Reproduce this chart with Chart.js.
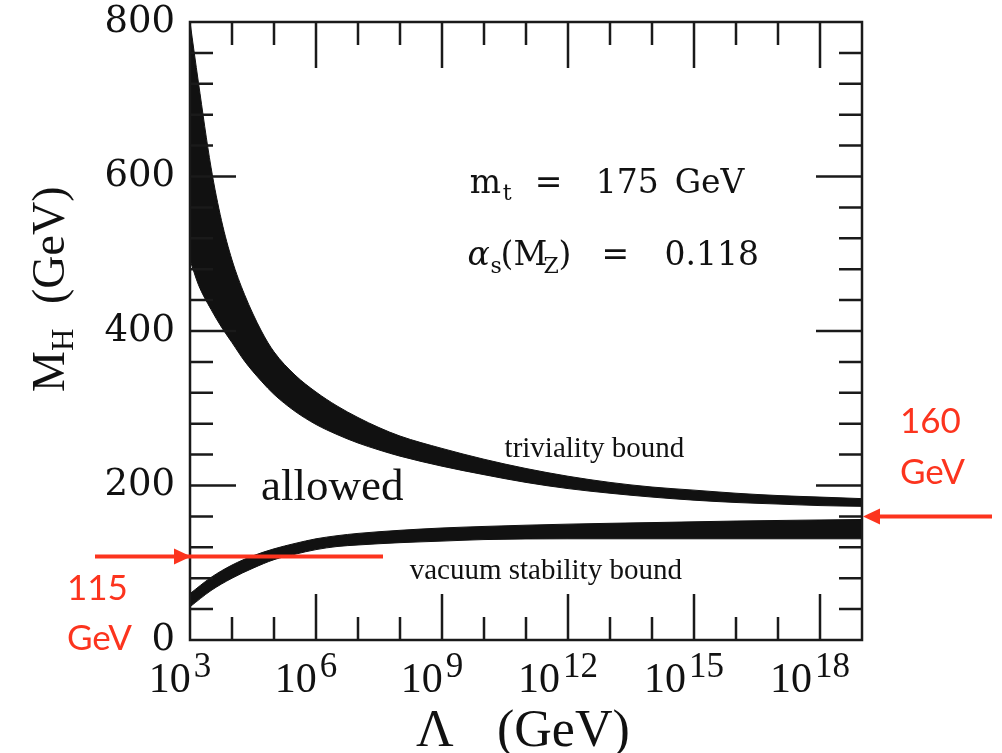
<!DOCTYPE html>
<html>
<head>
<meta charset="utf-8">
<script src="https://cdn.jsdelivr.net/npm/chart.js@4.4.1/dist/chart.umd.min.js"></script>
<style>
  html, body { margin: 0; padding: 0; background: #fff; }
  canvas { display: block; }
</style>
</head>
<body>
<canvas id="chart" width="1002" height="753"></canvas>
<script>
// x values are log10(Lambda / GeV), y values are M_H in GeV

// triviality bound band
const trivLogL  = [3, 3.2, 3.5, 3.75, 4, 4.3, 4.7, 5, 5.5, 6, 6.5, 7, 7.5, 8, 9, 10, 11, 12, 13, 14, 15, 16, 17, 18, 19];
const trivUpper = [800, 722, 612, 543, 492, 447, 400, 373, 343, 321, 303, 288, 275, 264, 248, 234, 222, 212, 204, 198, 194, 190, 187, 185, 183];
const trivLower = [492, 460, 428, 405, 385, 361, 335, 318, 296, 279, 266, 255, 246, 238, 225, 214, 204, 196, 190, 185, 181, 178, 176, 174, 173];

// vacuum stability bound band
const vacLogL  = [3, 3.5, 4, 4.5, 5, 5.5, 6, 6.5, 7, 8, 9, 10, 12, 14, 16, 19];
const vacUpper = [60, 81, 97, 109, 118, 125, 131, 135, 138, 142, 145, 147, 150, 152, 154, 156];
const vacLower = [43, 64, 80, 93, 104, 111, 117, 121, 123, 126, 128, 130, 131, 131, 131, 131];

// axis ticks
const xTickExponents = [3, 6, 9, 12, 15, 18];
const yTickValues = [0, 200, 400, 600, 800];

// red markers (values as drawn in the picture)
const arrowLowAt = 108;
const arrowHighAt = 160;

const RED = 'rgb(252, 52, 30)';
const INK = '#111';

function toPoints(xs, ys) {
  return xs.map((v, i) => ({ x: v, y: ys[i] }));
}

function bandSet(xs, ys, fill) {
  return {
    data: toPoints(xs, ys),
    borderColor: INK,
    backgroundColor: INK,
    borderWidth: 1,
    pointRadius: 0,
    cubicInterpolationMode: 'monotone',
    fill: fill
  };
}

// frame, inward ticks, tick labels with exponents, annotations
const decorations = {
  id: 'decorations',
  afterDatasetsDraw(chart) {
    const { ctx, chartArea: a, scales: { x, y } } = chart;
    ctx.save();

    // frame + ticks on all four sides
    ctx.strokeStyle = '#1a1a1a';
    ctx.lineWidth = 2.5;
    ctx.strokeRect(a.left, a.top, a.right - a.left, a.bottom - a.top);
    ctx.beginPath();
    for (let e = 4; e < 19; e++) {
      const px = x.getPixelForValue(e);
      const len = e % 3 === 0 ? 46 : 23;
      ctx.moveTo(px, a.bottom); ctx.lineTo(px, a.bottom - len);
      ctx.moveTo(px, a.top); ctx.lineTo(px, a.top + len);
    }
    for (let m = 40; m < 800; m += 40) {
      const py = y.getPixelForValue(m);
      const len = m % 200 === 0 ? 46 : 23;
      ctx.moveTo(a.left, py); ctx.lineTo(a.left + len, py);
      ctx.moveTo(a.right, py); ctx.lineTo(a.right - len, py);
    }
    ctx.stroke();

    // x tick labels: 10^n
    ctx.fillStyle = INK;
    ctx.textBaseline = 'alphabetic';
    ctx.textAlign = 'left';
    x.ticks.forEach(t => {
      const px = x.getPixelForValue(t.value);
      ctx.font = '42px "Liberation Serif"';
      const wb = ctx.measureText('10').width;
      ctx.font = '35px "Liberation Serif"';
      const ws = ctx.measureText(String(t.value)).width;
      const start = px - (wb + 3 + ws) / 2 - 10;
      ctx.font = '42px "Liberation Serif"';
      ctx.fillText('10', start, a.bottom + 52);
      ctx.font = '35px "Liberation Serif"';
      ctx.fillText(String(t.value), start + wb + 3, a.bottom + 37);
    });

    // axis titles
    ctx.font = '52px "Liberation Serif"';
    ctx.fillText('Λ', 416, 746);
    ctx.fillText('(GeV)', 497, 746);

    ctx.save();
    ctx.translate(64, 392);
    ctx.rotate(-Math.PI / 2);
    ctx.font = '46px "Liberation Serif"';
    ctx.fillText('M', 0, 0);
    ctx.font = '31px "Liberation Serif"';
    ctx.fillText('H', 41, 9);
    ctx.font = '46px "Liberation Serif"';
    ctx.fillText('(GeV)', 88, 0);
    ctx.restore();

    // parameter box
    let x0 = x.getPixelForValue(9.66), b0 = y.getPixelForValue(579);
    ctx.font = '33px "DejaVu Serif"';
    ctx.fillText('m', x0, b0);
    ctx.font = '22px "DejaVu Serif"';
    ctx.fillText('t', x0 + 33, b0 + 7);
    ctx.font = '33px "DejaVu Serif"';
    ctx.fillText('=', x0 + 65, b0);
    ctx.fillText('175', x0 + 126, b0);
    ctx.fillText('GeV', x0 + 205, b0);

    x0 = x.getPixelForValue(9.61); b0 = y.getPixelForValue(485);
    ctx.font = 'italic 33px "DejaVu Serif"';
    ctx.fillText('α', x0, b0);
    ctx.font = '22px "DejaVu Serif"';
    ctx.fillText('s', x0 + 23, b0 + 8);
    ctx.font = '33px "DejaVu Serif"';
    ctx.fillText('(M', x0 + 33, b0);
    ctx.font = '22px "DejaVu Serif"';
    ctx.fillText('Z', x0 + 76, b0 + 8);
    ctx.font = '33px "DejaVu Serif"';
    ctx.fillText(')', x0 + 91, b0);
    ctx.fillText('=', x0 + 134, b0);
    ctx.fillText('0.118', x0 + 197, b0);

    // region labels
    ctx.font = '45px "Liberation Serif"';
    ctx.fillText('allowed', x.getPixelForValue(4.69), y.getPixelForValue(181));
    ctx.font = '29px "Liberation Serif"';
    ctx.fillText('triviality bound', x.getPixelForValue(10.49), y.getPixelForValue(237));
    ctx.fillText('vacuum stability bound', x.getPixelForValue(8.23), y.getPixelForValue(79));

    // red arrows
    ctx.strokeStyle = RED;
    ctx.fillStyle = RED;
    ctx.lineWidth = 4;
    const yl = y.getPixelForValue(arrowLowAt);
    ctx.beginPath();
    ctx.moveTo(95, yl); ctx.lineTo(383, yl);
    ctx.stroke();
    ctx.beginPath();
    ctx.moveTo(a.left + 1, yl); ctx.lineTo(a.left - 16, yl - 8); ctx.lineTo(a.left - 16, yl + 8);
    ctx.closePath(); ctx.fill();

    const yh = y.getPixelForValue(arrowHighAt);
    ctx.beginPath();
    ctx.moveTo(992, yh); ctx.lineTo(a.right + 14, yh);
    ctx.stroke();
    ctx.beginPath();
    ctx.moveTo(a.right + 1, yh); ctx.lineTo(a.right + 18, yh - 8); ctx.lineTo(a.right + 18, yh + 8);
    ctx.closePath(); ctx.fill();

    ctx.font = '35px Lato';
    ctx.fillText('160', 900, 433);
    ctx.fillText('GeV', 900, 484);
    ctx.fillText('115', 67, 600);
    ctx.fillText('GeV', 67, 650);

    ctx.restore();
  }
};

new Chart(document.getElementById('chart'), {
  type: 'line',
  data: {
    datasets: [
      bandSet(trivLogL, trivUpper, false),
      bandSet(trivLogL, trivLower, '-1'),
      bandSet(vacLogL, vacUpper, false),
      bandSet(vacLogL, vacLower, '-1')
    ]
  },
  options: {
    responsive: false,
    animation: false,
    layout: { padding: { left: 0, top: 22, right: 140, bottom: 0 } },
    plugins: { legend: { display: false }, tooltip: { enabled: false } },
    scales: {
      x: {
        type: 'linear',
        min: 3,
        max: 19,
        afterBuildTicks: s => { s.ticks = xTickExponents.map(v => ({ value: v })); },
        afterFit: s => { s.height = 113; s.paddingLeft = 0; s.paddingRight = 0; },
        ticks: { display: false },
        grid: { display: false, drawTicks: false },
        border: { display: false }
      },
      y: {
        min: 0,
        max: 800,
        afterBuildTicks: s => { s.ticks = yTickValues.map(v => ({ value: v })); },
        afterFit: s => { s.width = 190; s.paddingTop = 0; s.paddingBottom = 0; },
        ticks: {
          color: INK,
          padding: 15,
          font: { family: '"DejaVu Serif"', size: 37, lineHeight: 1 }
        },
        grid: { display: false, drawTicks: false },
        border: { display: false }
      }
    }
  },
  plugins: [decorations]
});
</script>
</body>
</html>
